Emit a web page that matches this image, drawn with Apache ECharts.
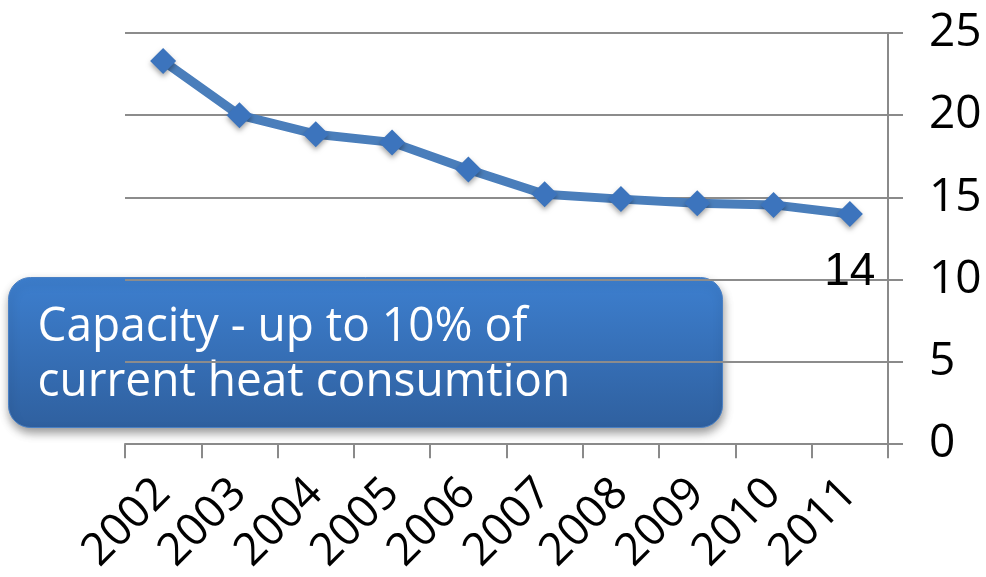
<!DOCTYPE html>
<html>
<head>
<meta charset="utf-8">
<script src="https://cdn.jsdelivr.net/npm/echarts@6/dist/echarts.min.js"></script>
<style>
  html, body { margin: 0; padding: 0; background: #ffffff; }
  #chart { width: 986px; height: 577px; }
</style>
</head>
<body>
<div id="chart"></div>
<script>
// Years on the category axis
const years = ['2002', '2003', '2004', '2005', '2006', '2007', '2008', '2009', '2010', '2011'];
// Yearly values of the series
const values = [23.3, 20.0, 18.85, 18.35, 16.7, 15.2, 14.9, 14.65, 14.55, 14];
// Right-hand value axis range
const yMin = 0;
const yMax = 25;
const yStep = 5;
// Callout text
const noteLines = ['Capacity - up to 10% of', 'current heat consumtion'];

const FONT = 'Open Sans';
const chart = echarts.init(document.getElementById('chart'), null, { renderer: 'canvas' });
const lastIndex = values.length - 1;

chart.setOption({
  backgroundColor: '#ffffff',
  animation: false,
  grid: { left: 125, right: 98, top: 33, bottom: 130 },
  xAxis: {
    type: 'category',
    data: years,
    boundaryGap: true,
    axisLine: { show: true, lineStyle: { color: '#8a8a8a', width: 2 } },
    axisTick: { show: true, length: 14, lineStyle: { color: '#8a8a8a', width: 2 } },
    axisLabel: {
      rotate: 45, interval: 0, hideOverlap: false,
      fontSize: 45, fontFamily: FONT, color: '#000', margin: 42
    }
  },
  yAxis: {
    type: 'value',
    position: 'right',
    min: yMin, max: yMax, interval: yStep,
    axisLine: { show: true, lineStyle: { color: '#8a8a8a', width: 2 } },
    axisTick: { show: true, length: 15, lineStyle: { color: '#8a8a8a', width: 2 } },
    axisLabel: { fontSize: 46, fontFamily: FONT, color: '#000', margin: 41 },
    splitLine: { show: true, lineStyle: { color: '#8c8c8c', width: 2 } }
  },
  series: [{
    type: 'line',
    data: values.map((v, i) => i === lastIndex
      ? { value: v, label: { show: true } }
      : v),
    symbol: 'diamond',
    symbolSize: 26,
    lineStyle: { color: '#4a7ebb', width: 9 },
    itemStyle: {
      color: '#3c74bd',
      shadowColor: 'rgba(0,0,0,0.35)', shadowBlur: 5, shadowOffsetY: 3
    },
    label: {
      show: false, position: 'bottom', distance: 22,
      fontSize: 46, fontFamily: 'Liberation Sans', color: '#000'
    },
    z: 3
  }],
  graphic: [{
    type: 'group',
    left: 8, top: 277,
    z: 10,
    children: [{
      type: 'rect',
      shape: { x: 0, y: 0, width: 714, height: 150, r: 22 },
      style: {
        fill: new echarts.graphic.LinearGradient(0, 0, 0, 1, [
          { offset: 0, color: '#3d7fcf' },
          { offset: 1, color: '#2f609f' }
        ]),
        stroke: '#4a80c4', lineWidth: 1,
        shadowColor: 'rgba(0,0,0,0.4)', shadowBlur: 10, shadowOffsetX: 1, shadowOffsetY: 5
      }
    }, {
      type: 'text',
      x: 29, y: 22,
      scaleY: 1.04,
      style: {
        text: noteLines.join('\n'),
        fill: '#ffffff',
        fontSize: 46,
        lineHeight: 53,
        fontFamily: FONT
      }
    }]
  }]
});
</script>
</body>
</html>
